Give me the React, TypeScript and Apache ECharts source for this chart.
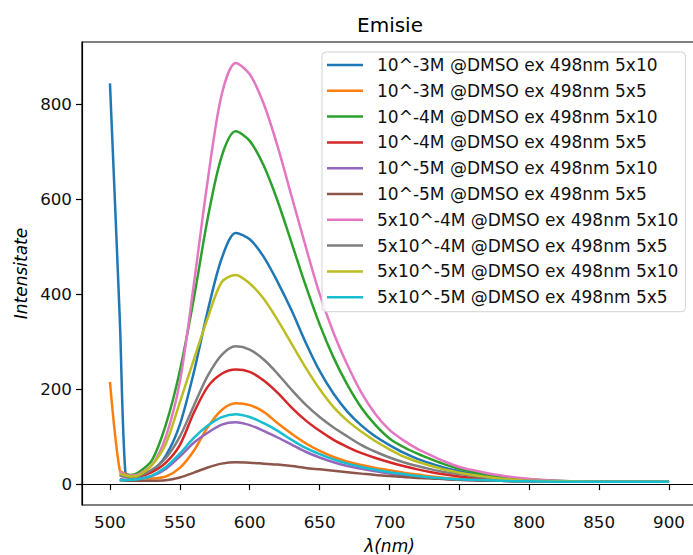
import React, { useEffect, useRef } from "react";
import * as echarts from "echarts";

const WAVELENGTHS = [500, 507, 511, 515, 520, 530, 540, 550, 560, 570, 580, 590, 600, 610, 620, 630, 640, 650, 660, 670, 680, 690, 700, 710, 720, 730, 740, 750, 760, 770, 780, 790, 800, 820, 850, 900];

const SERIES_NAMES = [
  "10^-3M @DMSO ex 498nm 5x10",
  "10^-3M @DMSO ex 498nm 5x5",
  "10^-4M @DMSO ex 498nm 5x10",
  "10^-4M @DMSO ex 498nm 5x5",
  "10^-5M @DMSO ex 498nm 5x10",
  "10^-5M @DMSO ex 498nm 5x5",
  "5x10^-4M @DMSO ex 498nm 5x10",
  "5x10^-4M @DMSO ex 498nm 5x5",
  "5x10^-5M @DMSO ex 498nm 5x10",
  "5x10^-5M @DMSO ex 498nm 5x5",
];

const COLORS = ["#1f77b4", "#ff7f0e", "#2ca02c", "#d62728", "#9467bd", "#8c564b", "#e377c2", "#7f7f7f", "#bcbd22", "#17becf"];

const E3_5x10 = [843, 350, 25, 17, 19, 28, 60, 125, 235, 365, 475, 528, 515, 478, 425, 365, 298, 238, 190, 152, 123, 100, 82, 66, 53, 43, 34, 27, 21, 16, 12, 10, 8, 6, 5, 5];
const E3_5x5 = [215, 29, 22, 17, 13, 12, 16, 34, 70, 120, 156, 170, 166, 152, 128, 106, 86, 70, 57, 47, 40, 34, 29, 24, 20, 16, 13, 11, 9, 8, 7, 6, 6, 5, 5, 5];
const E4_5x10 = [null, 24, 20, 19, 24, 50, 125, 238, 390, 560, 690, 742, 722, 670, 595, 507, 418, 336, 266, 208, 160, 124, 96, 78, 64, 52, 41, 32, 25, 20, 15, 12, 10, 7, 5, 5];
const E4_5x5 = [null, 20, 16, 14, 15, 25, 45, 82, 150, 205, 232, 241, 236, 218, 192, 161, 134, 112, 93, 78, 65, 55, 46, 38, 31, 25, 20, 16, 13, 11, 9, 8, 7, 6, 5, 5];
const E5_5x10 = [null, 10, 9, 9, 11, 17, 32, 58, 87, 108, 125, 130, 124, 112, 98, 83, 68, 56, 46, 38, 32, 27, 22, 18, 15, 13, 11, 9, 8, 7, 7, 6, 6, 5, 5, 5];
const E5_5x5 = [null, 8, 7, 7, 7, 7, 8, 14, 24, 35, 43, 46, 45, 43, 41, 38, 34, 31, 28, 25, 22, 19, 17, 15, 13, 12, 10, 9, 8, 7, 7, 6, 6, 5, 5, 5];
const H4_5x10 = [null, 26, 20, 18, 20, 40, 100, 215, 420, 640, 820, 886, 862, 800, 710, 605, 500, 400, 318, 250, 192, 147, 114, 92, 74, 60, 47, 36, 29, 23, 18, 14, 11, 7, 5, 5];
const H4_5x5 = [null, 18, 15, 13, 16, 30, 55, 100, 165, 228, 272, 290, 283, 262, 232, 198, 167, 141, 119, 100, 82, 68, 56, 46, 38, 31, 25, 21, 17, 13, 11, 9, 7, 6, 5, 5];
const H5_5x10 = [null, 22, 18, 16, 18, 40, 85, 172, 262, 350, 425, 440, 422, 390, 345, 295, 245, 200, 162, 133, 110, 90, 73, 58, 47, 38, 30, 24, 19, 15, 11, 9, 7, 6, 5, 5];
const H5_5x5 = [null, 8, 8, 9, 10, 18, 36, 64, 97, 123, 141, 147, 141, 128, 112, 93, 76, 63, 52, 43, 36, 30, 25, 21, 17, 14, 12, 10, 9, 8, 7, 6, 6, 5, 5, 5];

const SERIES_VALUES = [E3_5x10, E3_5x5, E4_5x10, E4_5x5, E5_5x10, E5_5x5, H4_5x10, H4_5x5, H5_5x10, H5_5x5];

const X_TICKS = [500, 550, 600, 650, 700, 750, 800, 850, 900];
const Y_TICKS = [0, 200, 400, 600, 800];

const FONT = "DejaVu Sans";

export default function App() {
  const ref = useRef<HTMLDivElement>(null);
  useEffect(() => {
    const chart = echarts.init(ref.current!, null, { renderer: "svg" });
    const series = SERIES_NAMES.map((name, k) => ({
      name,
      type: "line",
      data: WAVELENGTHS.map((x, i) => [x, SERIES_VALUES[k][i]]).filter((p) => p[1] !== null),
      symbol: "none",
      showSymbol: false,
      smooth: 0.3,
      color: COLORS[k],
      lineStyle: { width: 2.5, color: COLORS[k] },
      z: 2 + k * 0.01,
    }));
    chart.setOption({
      animation: false,
      backgroundColor: "#ffffff",
      grid: {
        left: 82,
        top: 42,
        bottom: 50,
        right: -4,
        containLabel: false,
        outerBoundsMode: "none",
        show: true,
        borderColor: "#000",
        borderWidth: 1.2,
        backgroundColor: "transparent",
      },
      graphic: [
        {
          type: "text",
          x: 390,
          y: 24.5,
          style: {
            text: "Emisie",
            fontFamily: FONT,
            fontSize: 20,
            fill: "#000",
            align: "center",
            verticalAlign: "middle",
            textAlign: "center",
            textVerticalAlign: "middle",
          },
        },
      ],
      xAxis: {
        type: "value",
        min: 480,
        max: 920,
        name: "λ(nm)",
        nameLocation: "middle",
        nameGap: 32,
        nameTextStyle: { fontFamily: FONT, fontSize: 17, fontStyle: "italic", color: "#000" },
        axisLine: { show: true, lineStyle: { color: "#000", width: 1.2 } },
        axisTick: { show: true, length: 6, lineStyle: { color: "#000", width: 1.2 }, customValues: X_TICKS },
        axisLabel: { fontFamily: FONT, fontSize: 16.7, color: "#111", margin: 8, customValues: X_TICKS },
        splitLine: { show: false },
      },
      yAxis: {
        type: "value",
        min: -44,
        max: 930,
        name: "Intensitate",
        nameLocation: "middle",
        nameGap: 52,
        nameTextStyle: { fontFamily: FONT, fontSize: 17, fontStyle: "italic", color: "#000" },
        axisLine: { show: true, lineStyle: { color: "#000", width: 1.2 } },
        axisTick: { show: true, length: 6, lineStyle: { color: "#000", width: 1.2 }, customValues: Y_TICKS },
        axisLabel: { fontFamily: FONT, fontSize: 16.7, color: "#111", margin: 10, customValues: Y_TICKS },
        splitLine: { show: false },
      },
      legend: {
        show: true,
        orient: "vertical",
        left: 322,
        top: 52,
        data: SERIES_NAMES,
        icon: "path://M0,0 H36 V2.5 H0 Z",
        symbolKeepAspect: true,
        itemWidth: 36,
        itemHeight: 17,
        itemGap: 8.8,
        padding: [4.5, 7, 6, 5],
        backgroundColor: "rgba(255,255,255,0.85)",
        borderColor: "#d3d3d3",
        borderWidth: 1,
        borderRadius: 4,
        textStyle: { fontFamily: FONT, fontSize: 17, color: "#111", padding: [0, 0, 0, 9] },
      },
      series,
    });
    return () => chart.dispose();
  }, []);
  return <div ref={ref} style={{ position: "fixed", left: 0, top: 0, width: 693, height: 555 }} />;
}
